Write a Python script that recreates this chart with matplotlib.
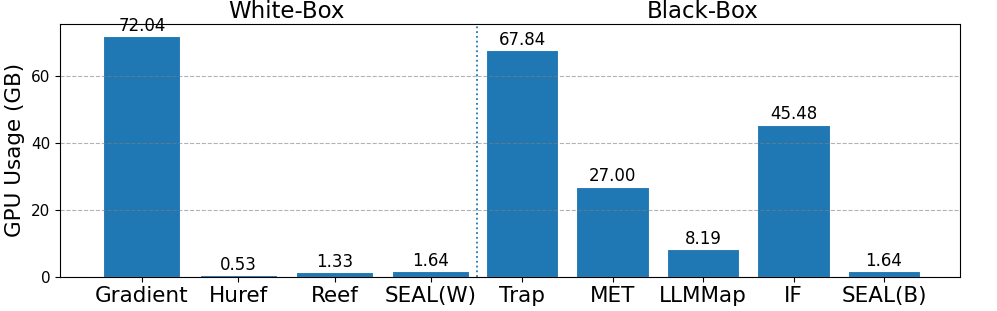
import matplotlib
matplotlib.use("Agg")
import matplotlib.pyplot as plt

# Methods and GPU memory (GB), split by access setting
white_labels = ["Gradient", "Huref", "Reef", "SEAL(W)"]
white_values = [72.04, 0.53, 1.33, 1.64]

black_labels = ["Trap", "MET", "LLMMap", "IF", "SEAL(B)"]
black_values = [67.84, 27.00, 8.19, 45.48, 1.64]

BAR_COLOR = "#1f77b4"
y_top = max(white_values + black_values) * 1.05

fig = plt.figure(figsize=(9.97, 3.11), dpi=100)
ax_w = fig.add_axes([0.0602, 0.1103, 0.4183, 0.8125])
ax_b = fig.add_axes([0.4784, 0.1103, 0.4844, 0.8125], sharey=ax_w)


def draw_group(ax, labels, values, title, title_x):
    xs = list(range(len(labels)))
    bars = ax.bar(xs, values, width=0.8, color=BAR_COLOR,
                  edgecolor="white", linewidth=0.8)
    ax.bar_label(bars, fmt="%.2f", fontsize=12, padding=1)
    ax.set_xticks(xs)
    ax.set_xticklabels(labels, fontsize=15.5)
    ax.grid(axis="y", linestyle="--", color="gray", alpha=0.6, linewidth=0.8)
    ax.annotate(title, xy=(title_x, 1.0),
                xycoords=("data", "axes fraction"),
                xytext=(0, 4.5), textcoords="offset points",
                ha="center", va="baseline", fontsize=16.5)


draw_group(ax_w, white_labels, white_values, "White-Box", 1.5)
draw_group(ax_b, black_labels, black_values, "Black-Box", 2)

ax_w.set_xlim(-0.85, 3.48)
ax_b.set_xlim(-0.5, 4.84)
ax_w.set_ylim(0, y_top)
ax_w.set_yticks([0, 20, 40, 60])
ax_w.tick_params(axis="y", labelsize=11)
ax_w.set_ylabel("GPU Usage (GB)", fontsize=15.5)

# Join the two panels into one frame
ax_w.spines["right"].set_visible(False)
ax_b.spines["left"].set_visible(False)
ax_b.tick_params(axis="y", left=False, labelleft=False)

# Dotted divider between white-box and black-box methods
ax_b.axvline(-0.5, color=BAR_COLOR, linestyle=":", linewidth=1.3,
             clip_on=False)

fig.savefig("out.png", dpi=100)
